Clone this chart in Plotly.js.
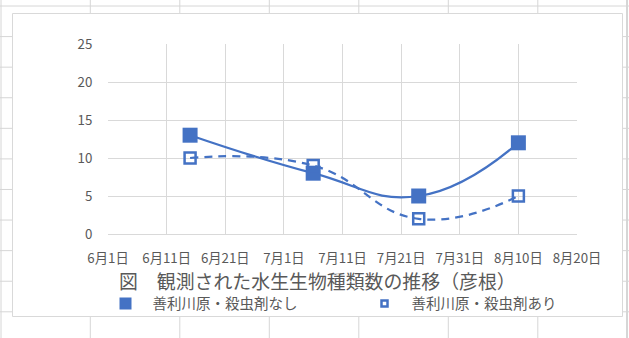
<!DOCTYPE html>
<html>
<head>
<meta charset="utf-8">
<script src="https://cdn.plot.ly/plotly-3.0.1.min.js"></script>
<style>
  html, body { margin: 0; padding: 0; background: #ffffff; }
  #chart { width: 629px; height: 338px; }
</style>
</head>
<body>
<div id="chart"></div>
<script>
// ---- data ----
const dates = ['2023-06-15', '2023-07-06', '2023-07-24', '2023-08-10'];
const seriesNames = ['善利川原・殺虫剤なし', '善利川原・殺虫剤あり'];
const valuesNashi = [13, 8, 5, 12];
const valuesAri = [10, 9, 2, 5];
const tickDates = ['2023-06-01', '2023-06-11', '2023-06-21', '2023-07-01', '2023-07-11',
                   '2023-07-21', '2023-07-31', '2023-08-10', '2023-08-20'];
const tickLabels = ['6月1日', '6月11日', '6月21日', '7月1日', '7月11日',
                    '7月21日', '7月31日', '8月10日', '8月20日'];
const chartTitle = '図　観測された水生生物種類数の推移（彦根）';

// ---- style ----
const BLUE = '#4472C4';
const TEXT = '#595959';
const GRID = '#d9d9d9';
const FONT = '"Noto Sans CJK JP", "Noto Sans", sans-serif';

const W = 629, H = 338;
const M = { l: 108, r: 52, t: 44, b: 104 };
const PW = W - M.l - M.r, PH = H - M.t - M.b;
const px = x => (x - M.l) / PW;            // page px -> paper x
const py = y => (H - M.b - y) / PH;        // page px -> paper y

// spreadsheet cell grid behind the chart + chart frame
const shapes = [];
const CELL = '#d6d6d6';
const colX = [1, 90.3, 179.8, 269.3, 358.8, 448.3, 537.8];
colX.forEach(x => shapes.push({type: 'line', xref: 'paper', yref: 'paper', layer: 'below',
  x0: px(x), x1: px(x), y0: py(0), y1: py(H), line: {color: CELL, width: 1}}));
shapes.push({type: 'line', xref: 'paper', yref: 'paper', layer: 'below',
  x0: px(627), x1: px(627), y0: py(0), y1: py(H), line: {color: CELL, width: 2}});
for (let k = 0; k < 12; k++) {
  const y = 6 + 30.58 * k;
  shapes.push({type: 'line', xref: 'paper', yref: 'paper', layer: 'below',
    x0: px(0), x1: px(W), y0: py(y), y1: py(y), line: {color: CELL, width: 1}});
}
shapes.push({type: 'rect', xref: 'paper', yref: 'paper', layer: 'below',
  x0: px(12.5), x1: px(622.5), y0: py(13.5), y1: py(316.5),
  fillcolor: '#ffffff', line: {color: GRID, width: 1}});

const traces = [
  {
    x: dates, y: valuesNashi, type: 'scatter', mode: 'lines+markers',
    name: seriesNames[0], showlegend: false,
    line: {color: BLUE, width: 2.25, shape: 'spline', smoothing: 1.3},
    marker: {symbol: 'square', size: 15, color: BLUE}
  },
  {
    x: dates, y: valuesAri, type: 'scatter', mode: 'lines+markers',
    name: seriesNames[1], showlegend: false,
    line: {color: BLUE, width: 2.25, shape: 'spline', smoothing: 1.3, dash: '8px,6px'},
    marker: {symbol: 'square-open', size: 11, color: BLUE, line: {color: BLUE, width: 2.5}}
  },
  // legend-only entries (marker only, like the original legend)
  {
    x: [null], y: [null], type: 'scatter', mode: 'markers', name: seriesNames[0],
    marker: {symbol: 'square', size: 12, color: BLUE}
  },
  {
    x: [null], y: [null], type: 'scatter', mode: 'markers', name: seriesNames[1],
    marker: {symbol: 'square-open', size: 6, color: BLUE, line: {color: BLUE, width: 2.5}}
  }
];

const layout = {
  width: W, height: H,
  margin: M,
  paper_bgcolor: '#ffffff',
  plot_bgcolor: 'rgba(0,0,0,0)',
  font: {family: FONT, color: TEXT, size: 13},
  showlegend: true,
  shapes: shapes,
  xaxis: {
    type: 'date',
    range: [tickDates[0], tickDates[tickDates.length - 1]],
    tickmode: 'array', tickvals: tickDates, ticktext: tickLabels,
    showgrid: true, gridcolor: GRID, gridwidth: 1,
    showline: true, linecolor: GRID, linewidth: 1, mirror: false,
    ticks: 'outside', ticklen: 12, tickcolor: 'rgba(0,0,0,0)',
    tickfont: {family: FONT, size: 13.3, color: TEXT},
    zeroline: false, fixedrange: true
  },
  yaxis: {
    range: [0, 25], dtick: 5, tick0: 0,
    showgrid: true, gridcolor: GRID, gridwidth: 1,
    zeroline: false, showline: false,
    ticks: 'outside', ticklen: 12, tickcolor: 'rgba(0,0,0,0)',
    tickfont: {family: FONT, size: 13.3, color: TEXT},
    fixedrange: true
  },
  legend: {
    orientation: 'h',
    x: px(98.5), xanchor: 'left',
    y: py(303.5), yanchor: 'middle',
    font: {family: FONT, size: 14.5, color: TEXT},
    itemwidth: 44,
    entrywidth: 200, entrywidthmode: 'pixels',
    bgcolor: 'rgba(0,0,0,0)', borderwidth: 0
  },
  annotations: [{
    text: chartTitle, xref: 'paper', yref: 'paper',
    x: px(317.5), y: py(280), xanchor: 'center', yanchor: 'middle',
    showarrow: false, font: {family: FONT, size: 18.9, color: TEXT}
  }]
};

Plotly.newPlot('chart', traces, layout, {staticPlot: true, displayModeBar: false});
</script>
</body>
</html>
